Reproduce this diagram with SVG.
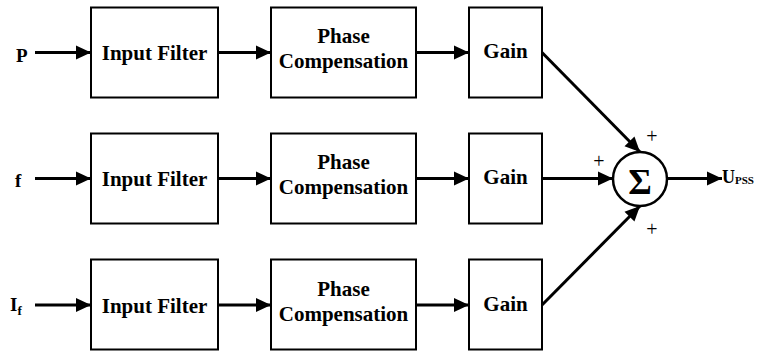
<svg xmlns="http://www.w3.org/2000/svg" width="760" height="351" viewBox="0 0 760 351">
<style>
.box{fill:#fff;stroke:#000;stroke-width:2}
text{font-family:'Liberation Serif','Times New Roman',serif;fill:#000}
.t{font-weight:bold;font-size:21px;text-anchor:middle}
.lbl{font-weight:bold;font-size:19px}
.pl{font-size:20px;text-anchor:middle}
.c{stroke:#000;stroke-width:3;fill:none;marker-end:url(#ah)}
</style>
<defs>
<marker id="ah" markerUnits="userSpaceOnUse" markerWidth="15" markerHeight="14" refX="15" refY="7" orient="auto" overflow="visible">
<path d="M0,0 L15,7 L0,14 z" fill="#000"/>
</marker>
</defs>
<g id="inputs">
<text class="lbl" x="16" y="61.5">P</text>
<text class="lbl" x="15" y="186.5">f</text>
<text class="lbl" x="10" y="311">I<tspan font-size="13" dy="4">f</tspan></text>
</g>
<g id="filter1"><rect class="box" x="91" y="7.5" width="127" height="90"/><text class="t" x="154.5" y="60">Input Filter</text></g>
<g id="phase1"><rect class="box" x="271" y="7.5" width="145" height="90"/><text class="t" x="343.5" y="43.3">Phase</text><text class="t" x="343.5" y="68.3">Compensation</text></g>
<g id="gain1"><rect class="box" x="469" y="7.5" width="73" height="90"/><text class="t" x="505.5" y="58.3">Gain</text></g>
<g id="filter2"><rect class="box" x="91" y="133.5" width="127" height="90"/><text class="t" x="154.5" y="186">Input Filter</text></g>
<g id="phase2"><rect class="box" x="271" y="133.5" width="145" height="90"/><text class="t" x="343.5" y="169.3">Phase</text><text class="t" x="343.5" y="194.3">Compensation</text></g>
<g id="gain2"><rect class="box" x="469" y="133.5" width="73" height="90"/><text class="t" x="505.5" y="184.3">Gain</text></g>
<g id="filter3"><rect class="box" x="91" y="259.5" width="127" height="90"/><text class="t" x="154.5" y="312.5">Input Filter</text></g>
<g id="phase3"><rect class="box" x="271" y="259.5" width="145" height="90"/><text class="t" x="343.5" y="295.8">Phase</text><text class="t" x="343.5" y="320.8">Compensation</text></g>
<g id="gain3"><rect class="box" x="469" y="259.5" width="73" height="90"/><text class="t" x="505.5" y="310.8">Gain</text></g>
<g id="sum">
<circle cx="640" cy="179" r="27" fill="#fff" stroke="#000" stroke-width="2.5"/>
<text x="640" y="194" font-weight="bold" font-size="36" text-anchor="middle">Σ</text>
<text class="pl" x="652" y="143">+</text>
<text class="pl" x="599" y="168">+</text>
<text class="pl" x="652" y="236">+</text>
</g>
<g id="output"><text x="722" y="183" font-weight="bold" font-size="18">U<tspan font-size="11" dy="1">PSS</tspan></text></g>
<g id="connectors">
<line class="c" x1="35" y1="52.5" x2="91" y2="52.5"/>
<line class="c" x1="218" y1="52.5" x2="271" y2="52.5"/>
<line class="c" x1="416" y1="52.5" x2="469" y2="52.5"/>
<line class="c" x1="35" y1="178.5" x2="91" y2="178.5"/>
<line class="c" x1="218" y1="178.5" x2="271" y2="178.5"/>
<line class="c" x1="416" y1="178.5" x2="469" y2="178.5"/>
<line class="c" x1="35" y1="305" x2="91" y2="305"/>
<line class="c" x1="218" y1="305" x2="271" y2="305"/>
<line class="c" x1="416" y1="305" x2="469" y2="305"/>
<line class="c" x1="542" y1="52.5" x2="640" y2="152"/>
<line class="c" x1="542" y1="178.5" x2="613" y2="178.5"/>
<line class="c" x1="542" y1="305" x2="640" y2="206"/>
<line class="c" x1="667" y1="178.5" x2="722" y2="178.5"/>
</g>
</svg>
